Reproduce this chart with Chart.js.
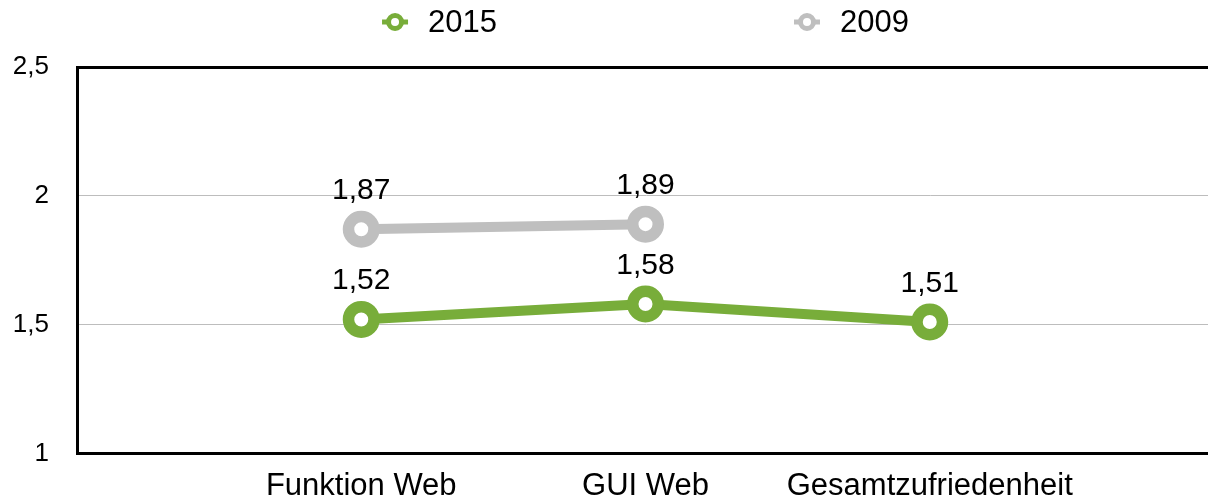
<!DOCTYPE html>
<html>
<head>
<meta charset="utf-8">
<script src="https://cdn.jsdelivr.net/npm/chart.js"></script>
<style>
  html, body { margin: 0; padding: 0; background: #fff; }
  #wrap { width: 1208px; height: 497px; overflow: hidden; }
</style>
</head>
<body>
<div id="wrap"><canvas id="lineChart" width="1220" height="497"></canvas></div>
<script>
// empty slots at both ends keep the category ticks on the plot edges
var categories = ['', 'Funktion Web', 'GUI Web', 'Gesamtzufriedenheit', ''];
var values2015 = [null, 1.52, 1.58, 1.51, null];
var values2009 = [null, 1.87, 1.89, null, null];
var yTicks = [1, 1.5, 2, 2.5];

var FONT = '"Liberation Sans", Arial, Helvetica, sans-serif';

function deNum(v) {
    return String(v).replace('.', ',');
}

// value labels above each point
var valueLabels = {
    id: 'valueLabels',
    afterDatasetsDraw: function (chart) {
        var ctx = chart.ctx;
        ctx.save();
        ctx.font = '30px ' + FONT;
        ctx.fillStyle = '#000';
        ctx.textAlign = 'center';
        ctx.textBaseline = 'alphabetic';
        chart.data.datasets.forEach(function (ds, i) {
            var meta = chart.getDatasetMeta(i);
            meta.data.forEach(function (pt, j) {
                var v = ds.data[j];
                if (v === null || pt.skip) return;
                ctx.fillText(deNum(v), pt.x, pt.y - 30);
            });
        });
        ctx.restore();
    }
};

// legend centred over the plot area, ring marker with short line stubs
var topLegend = {
    id: 'topLegend',
    afterDraw: function (chart) {
        var ctx = chart.ctx;
        var area = chart.chartArea;
        var gap = 297;
        var y = 22;
        ctx.save();
        ctx.font = '31px ' + FONT;
        var widths = chart.data.datasets.map(function (ds) {
            return 46 + ctx.measureText(ds.label).width;
        });
        var total = widths.reduce(function (a, b) { return a + b; }, 0) + gap * (widths.length - 1);
        var x = (area.left + area.right) / 2 - total / 2;
        chart.data.datasets.forEach(function (ds, i) {
            var cx = x + 13;
            ctx.strokeStyle = ds.borderColor;
            ctx.lineWidth = 5;
            ctx.beginPath();
            ctx.moveTo(cx - 13, y);
            ctx.lineTo(cx + 13, y);
            ctx.stroke();
            ctx.beginPath();
            ctx.arc(cx, y, 6.5, 0, Math.PI * 2);
            ctx.fillStyle = '#fff';
            ctx.fill();
            ctx.stroke();
            ctx.fillStyle = '#000';
            ctx.textAlign = 'left';
            ctx.textBaseline = 'middle';
            ctx.fillText(ds.label, x + 46, y + 1);
            x += widths[i] + gap;
        });
        ctx.restore();
    }
};

document.addEventListener('DOMContentLoaded', function () {
    var ctx = document.getElementById('lineChart').getContext('2d');
    var lineChart = new Chart(ctx, {
        type: 'line',
        data: {
            labels: categories,
            datasets: [{
                label: '2015',
                data: values2015,
                borderColor: '#78ad3a',
                borderWidth: 10,
                pointRadius: 12.75,
                pointHoverRadius: 12.75,
                pointBorderWidth: 11.5,
                pointBackgroundColor: '#fff',
                pointBorderColor: '#78ad3a',
                fill: false,
                tension: 0
            }, {
                label: '2009',
                data: values2009,
                borderColor: '#bfbfbf',
                borderWidth: 10,
                pointRadius: 12.75,
                pointHoverRadius: 12.75,
                pointBorderWidth: 11.5,
                pointBackgroundColor: '#fff',
                pointBorderColor: '#bfbfbf',
                fill: false,
                tension: 0
            }]
        },
        options: {
            responsive: false,
            animation: { duration: 0 },
            layout: { autoPadding: false, padding: { top: 67, left: 0, right: 0, bottom: 0 } },
            plugins: {
                legend: { display: false },
                tooltip: { enabled: false }
            },
            scales: {
                x: {
                    offset: false,
                    grid: { display: false },
                    border: { display: true, color: '#000', width: 3 },
                    ticks: {
                        autoSkip: false,
                        maxRotation: 0,
                        padding: 6,
                        color: '#000',
                        font: { family: FONT, size: 31 }
                    },
                    afterFit: function (scale) { scale.height = 42; }
                },
                y: {
                    min: yTicks[0],
                    max: yTicks[yTicks.length - 1],
                    afterBuildTicks: function (scale) {
                        scale.ticks = yTicks.map(function (v) { return { value: v }; });
                    },
                    grid: {
                        drawTicks: false,
                        color: function (c) {
                            if (c.tick && c.tick.value === 2.5) return '#000';
                            if (c.tick && c.tick.value === 1) return 'rgba(0,0,0,0)';
                            return '#bdbdbd';
                        },
                        lineWidth: function (c) {
                            return (c.tick && c.tick.value === 2.5) ? 3 : 1;
                        }
                    },
                    border: { display: true, color: '#000', width: 3 },
                    ticks: {
                        padding: 28,
                        color: '#000',
                        font: { family: FONT, size: 26 },
                        callback: function (v) { return deNum(v); }
                    },
                    afterFit: function (scale) { scale.width = 77; }
                }
            }
        },
        plugins: [valueLabels, topLegend]
    });
});
</script>
</body>
</html>
